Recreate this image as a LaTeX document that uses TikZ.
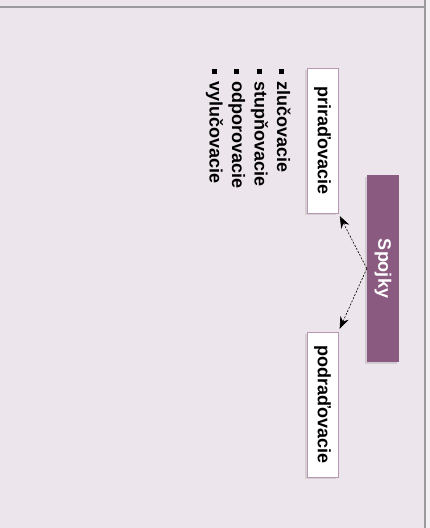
\documentclass[tikz,border=0pt]{standalone}
\usepackage{fontspec}
\setmainfont{Liberation Sans}
\usepackage{tikz}
\usetikzlibrary{arrows.meta,shadows}
\definecolor{bgpage}{HTML}{ECE5EB}
\definecolor{bgstrip}{HTML}{F4F1F4}
\definecolor{frameline}{HTML}{9C9A9C}
\definecolor{spojkafill}{HTML}{8A5A80}
\definecolor{boxline}{HTML}{B797B3}
\tikzset{
    labeltext/.style={font=\fontsize{18}{22.5}\selectfont\bfseries},
    headbox/.style={
        labeltext, fill=spojkafill, text=white, inner sep=0pt,
        minimum width=32pt, minimum height=187pt,
        drop shadow={shadow xshift=-2pt, shadow yshift=-2pt, opacity=0.25}
    },
    kindbox/.style={
        labeltext, fill=white, draw=boxline, line width=0.8pt, inner sep=0pt,
        minimum width=31pt, minimum height=145pt,
        drop shadow={shadow xshift=-2pt, shadow yshift=-2pt, opacity=0.2}
    },
    itemtext/.style={labeltext, rotate=-90, anchor=base west, inner sep=0pt},
    link/.style={
        draw=black, line width=0.6pt, dash pattern=on 2pt off 1.5pt,
        -{Stealth[length=12pt,width=9pt]}, shorten >=3pt
    }
}
\newcommand{\sqbullet}{\rule[2pt]{5pt}{5pt}\hspace{7pt}}

\begin{document}
\begin{tikzpicture}[x=1pt,y=-1pt]
		\useasboundingbox (0,0) rectangle (430,528);

		% Page background and frame
		\fill [bgpage] (0,0) rectangle (430,528);
		\fill [bgstrip] (426,0) rectangle (430,528);
		\draw [frameline, line width=1.5pt] (0,7) -- (425,7);
		\draw [frameline, line width=1.5pt] (425,0) -- (425,528);

		% Boxes
		\node[headbox] (spojky) at (383,268.5) {\rotatebox{-90}{Spojky}};
		\node[kindbox] (prir) at (322.5,140.5) {\rotatebox{-90}{priraďovacie}};
		\node[kindbox] (podr) at (322.5,404.5) {\rotatebox{-90}{podraďovacie}};

		% Arrows
		\draw[link] (spojky.west) -- (prir.south east);
		\draw[link] (spojky.west) -- (podr.north east);

		% Kinds of coordinating conjunctions
		\foreach \word [count=\i from 0] in {zlučovacie,stupňovacie,odporovacie,vylučovacie}
			\node[itemtext] (item\i) at (277-22.5*\i,69) {\sqbullet\word};

	\end{tikzpicture}
\end{document}
